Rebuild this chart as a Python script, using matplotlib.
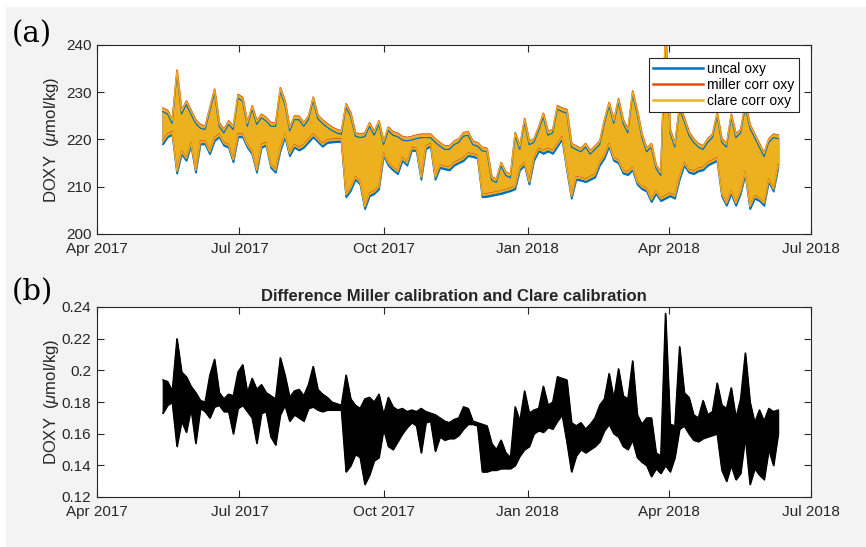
import matplotlib.dates as mdates
import matplotlib.pyplot as plt
import numpy as np
from matplotlib.patches import Rectangle

plt.rcParams["font.family"] = ["Liberation Sans", "DejaVu Sans"]
plt.rcParams["mathtext.fontset"] = "custom"
plt.rcParams["mathtext.rm"] = "Liberation Sans"
plt.rcParams["mathtext.it"] = "Liberation Sans:italic"

# one (low, high) pair every 3 days
start_day = "2017-05-13"
step_days = 3

clare_lo = [
    219.5, 221.0, 221.5, 213.3, 217.4, 216.0, 219.2, 213.5, 219.5, 219.5,
    217.4, 220.2, 221.0, 219.2, 218.8, 215.7, 221.0, 221.0, 218.8, 217.4,
    213.5, 218.8, 219.2, 214.5, 213.5, 218.0, 221.0, 217.0, 218.8, 218.2,
    218.8, 219.9, 221.0, 220.0, 219.0, 219.8, 219.9, 220.0, 220.0, 208.3,
    209.7, 212.0, 211.0, 205.8, 208.5, 209.0, 210.0, 217.0, 215.0, 214.0,
    213.2, 216.0, 215.0, 218.2, 218.0, 212.0, 218.5, 219.0, 212.0, 214.5,
    214.2, 214.0, 215.0, 215.5, 216.0, 217.0, 216.8, 216.5, 208.3, 208.4,
    208.6, 208.8, 209.0, 209.3, 209.6, 210.0, 214.0, 215.0, 211.0, 216.0,
    218.0, 217.5, 218.0, 217.5, 219.0, 220.5, 214.0, 208.0, 212.0, 211.8,
    211.5, 212.0, 212.5, 215.0, 216.5, 219.0, 216.0, 215.5, 213.3, 213.0,
    214.0, 211.0, 210.0, 209.5, 207.3, 209.0, 207.5, 208.0, 208.5, 208.0,
    212.0, 215.0, 213.5, 213.2, 213.8, 214.0, 215.0, 215.5, 216.0, 208.5,
    206.5, 209.0, 206.5, 209.0, 213.0, 205.8, 208.0, 207.5, 206.5, 211.5,
    209.5, 214.5,
]
clare_hi = [
    226.5, 226.0, 224.0, 234.5, 226.0, 228.0, 226.0, 224.0, 223.0, 222.7,
    226.6, 230.5, 223.4, 222.0, 223.8, 222.7, 229.4, 228.7, 223.4, 227.0,
    223.8, 225.2, 224.5, 223.4, 223.4, 230.8, 228.0, 222.4, 224.8, 224.8,
    223.4, 224.8, 228.8, 225.0, 224.0, 223.2, 222.5, 222.0, 221.7, 227.4,
    225.5, 221.3, 221.0, 221.2, 223.4, 221.5, 223.8, 219.5, 222.5, 221.5,
    221.2, 220.5, 220.3, 220.5, 220.8, 221.0, 221.0, 221.0, 220.0, 219.2,
    218.5, 218.5, 219.5, 220.0, 221.3, 221.5, 219.5, 219.2, 218.2, 218.0,
    212.0, 211.5, 215.0, 213.0, 212.5, 221.3, 218.5, 224.3, 219.5, 220.0,
    222.5, 225.4, 221.5, 222.0, 227.0, 226.5, 226.2, 219.0, 218.5, 218.0,
    219.0, 217.5, 218.5, 219.5, 224.0, 227.7, 224.0, 228.5, 224.0, 222.0,
    230.1, 226.0, 221.0, 218.0, 219.0, 214.5, 213.0, 243.0, 222.0, 219.0,
    227.0, 224.5, 221.5, 220.0, 219.0, 218.5, 220.0, 221.0, 225.5, 220.0,
    219.0, 225.2, 221.0, 222.0, 227.5, 223.0, 221.0, 219.0, 217.0, 220.0,
    221.0, 220.8,
]
uncal_lo = [
    219.0, 220.5, 221.0, 212.8, 216.9, 215.5, 218.7, 213.0, 219.0, 219.0,
    216.9, 219.7, 220.5, 218.7, 218.3, 215.2, 220.5, 220.5, 218.3, 216.9,
    213.0, 218.3, 218.7, 214.0, 213.0, 217.5, 220.5, 216.5, 218.3, 217.7,
    218.3, 219.4, 220.5, 219.5, 218.5, 219.3, 219.4, 219.5, 219.5, 207.8,
    209.2, 211.5, 210.5, 205.3, 208.0, 208.5, 209.5, 216.5, 214.5, 213.5,
    212.7, 215.5, 214.5, 217.7, 217.5, 211.5, 218.0, 218.5, 211.5, 214.0,
    213.7, 213.5, 214.5, 215.0, 215.5, 216.5, 216.3, 216.0, 207.8, 207.9,
    208.1, 208.3, 208.5, 208.8, 209.1, 209.5, 213.5, 214.5, 210.5, 215.5,
    217.5, 217.0, 217.5, 217.0, 218.5, 220.0, 213.5, 207.5, 211.5, 211.3,
    211.0, 211.5, 212.0, 214.5, 216.0, 218.5, 215.5, 215.0, 212.8, 212.5,
    213.5, 210.5, 209.5, 209.0, 206.8, 208.5, 207.0, 207.5, 208.0, 207.5,
    211.5, 214.5, 213.0, 212.7, 213.3, 213.5, 214.5, 215.0, 215.5, 208.0,
    206.0, 208.5, 206.0, 208.5, 212.5, 205.3, 207.5, 207.0, 206.0, 211.0,
    209.0, 214.0,
]
uncal_hi = [
    225.9, 225.4, 223.4, 233.9, 225.4, 227.4, 225.4, 223.4, 222.4, 222.1,
    226.0, 229.9, 222.8, 221.4, 223.2, 222.1, 228.8, 228.1, 222.8, 226.4,
    223.2, 224.6, 223.9, 222.8, 222.8, 230.2, 227.4, 221.8, 224.2, 224.2,
    222.8, 224.2, 228.2, 224.4, 223.4, 222.6, 221.9, 221.4, 221.1, 226.8,
    224.9, 220.7, 220.4, 220.6, 222.8, 220.9, 223.2, 218.9, 221.9, 220.9,
    220.6, 219.9, 219.7, 219.9, 220.2, 220.4, 220.4, 220.4, 219.4, 218.6,
    217.9, 217.9, 218.9, 219.4, 220.7, 220.9, 218.9, 218.6, 217.6, 217.4,
    211.4, 210.9, 214.4, 212.4, 211.9, 220.7, 217.9, 223.7, 218.9, 219.4,
    221.9, 224.8, 220.9, 221.4, 226.4, 225.9, 225.6, 218.4, 217.9, 217.4,
    218.4, 216.9, 217.9, 218.9, 223.4, 227.1, 223.4, 227.9, 223.4, 221.4,
    229.5, 225.4, 220.4, 217.4, 218.4, 213.9, 212.4, 242.4, 221.4, 218.4,
    226.4, 223.9, 220.9, 219.4, 218.4, 217.9, 219.4, 220.4, 224.9, 219.4,
    218.4, 224.6, 220.4, 221.4, 226.9, 222.4, 220.4, 218.4, 216.4, 219.4,
    220.4, 220.2,
]
# Miller minus Clare, panel (b)
diff_lo = [
    0.173, 0.178, 0.180, 0.152, 0.168, 0.161, 0.176, 0.154, 0.176, 0.174,
    0.170, 0.177, 0.178, 0.174, 0.174, 0.160, 0.176, 0.178, 0.174, 0.170,
    0.154, 0.173, 0.174, 0.158, 0.153, 0.172, 0.178, 0.168, 0.172, 0.170,
    0.168, 0.176, 0.177, 0.175, 0.174, 0.175, 0.175, 0.175, 0.175, 0.136,
    0.140, 0.147, 0.145, 0.128, 0.134, 0.143, 0.145, 0.163, 0.152, 0.150,
    0.155, 0.160, 0.164, 0.167, 0.165, 0.148, 0.167, 0.168, 0.149, 0.158,
    0.156, 0.157, 0.157, 0.159, 0.163, 0.166, 0.166, 0.165, 0.136, 0.136,
    0.137, 0.137, 0.138, 0.138, 0.138, 0.140, 0.146, 0.150, 0.152, 0.160,
    0.162, 0.161, 0.164, 0.163, 0.168, 0.172, 0.155, 0.136, 0.146, 0.150,
    0.148, 0.150, 0.152, 0.155, 0.162, 0.166, 0.160, 0.158, 0.152, 0.150,
    0.156, 0.145, 0.142, 0.140, 0.133, 0.138, 0.135, 0.140, 0.136, 0.145,
    0.163, 0.165, 0.160, 0.156, 0.155, 0.157, 0.158, 0.159, 0.160, 0.137,
    0.130, 0.140, 0.131, 0.135, 0.158, 0.128, 0.138, 0.134, 0.131, 0.150,
    0.140, 0.160,
]
diff_hi = [
    0.194, 0.193, 0.187, 0.220, 0.199, 0.196, 0.190, 0.186, 0.181, 0.180,
    0.197, 0.207, 0.186, 0.182, 0.185, 0.184, 0.199, 0.2035, 0.186, 0.195,
    0.188, 0.191, 0.186, 0.184, 0.182, 0.208, 0.197, 0.183, 0.187, 0.188,
    0.184, 0.191, 0.2025, 0.188, 0.185, 0.183, 0.180, 0.179, 0.178, 0.197,
    0.182, 0.178, 0.176, 0.182, 0.183, 0.180, 0.185, 0.172, 0.183, 0.177,
    0.175, 0.176, 0.174, 0.175, 0.174, 0.176, 0.174, 0.173, 0.172, 0.170,
    0.168, 0.167, 0.169, 0.170, 0.177, 0.176, 0.168, 0.167, 0.166, 0.165,
    0.154, 0.150, 0.156, 0.148, 0.145, 0.177, 0.168, 0.187, 0.173, 0.175,
    0.176, 0.190, 0.178, 0.180, 0.196, 0.195, 0.194, 0.167, 0.165, 0.167,
    0.163, 0.166, 0.170, 0.178, 0.182, 0.198, 0.182, 0.201, 0.184, 0.182,
    0.206, 0.172, 0.166, 0.170, 0.170, 0.148, 0.146, 0.236, 0.166, 0.165,
    0.215, 0.186, 0.183, 0.172, 0.170, 0.181, 0.172, 0.174, 0.192, 0.178,
    0.176, 0.189, 0.170, 0.182, 0.211, 0.180, 0.167, 0.175, 0.168, 0.176,
    0.174, 0.175,
]

x_ticks = ["2017-04-01", "2017-07-01", "2017-10-01",
           "2018-01-01", "2018-04-01", "2018-07-01"]
y_ticks_a = [200, 210, 220, 230, 240]
y_ticks_b = [0.12, 0.14, 0.16, 0.18, 0.2, 0.22, 0.24]
y_labels_b = ["0.12", "0.14", "0.16", "0.18", "0.2", "0.22", "0.24"]

TEXT = "#262626"
times = np.datetime64(start_day) + np.arange(len(clare_lo)) * np.timedelta64(step_days, "D")


def band(ax, lo, hi, color, label=None, lw=0.9):
    # dense profiles: the line sweeps between its low and high each sample
    ax.fill_between(times, lo, hi, facecolor=color, edgecolor=color, linewidth=lw)
    ax.plot(times, hi, color=color, lw=lw, label=label)
    ax.plot(times, lo, color=color, lw=lw)


def style_axes(ax):
    for s in ax.spines.values():
        s.set_color(TEXT)
        s.set_linewidth(0.8)
    ax.tick_params(direction="in", length=5, width=0.8, top=True, right=True,
                   labelsize=11, colors=TEXT)
    ax.tick_params(axis="x", pad=6)
    ax.tick_params(axis="y", pad=4)
    ax.set_xlim(np.datetime64(x_ticks[0]), np.datetime64(x_ticks[-1]))
    ax.set_xticks([np.datetime64(d) for d in x_ticks])
    ax.xaxis.set_major_formatter(mdates.DateFormatter("%b %Y"))
    ax.set_ylabel(r"DOXY  ($\mu$mol/kg)", fontsize=12, color=TEXT)
    ax.yaxis.set_label_coords(-0.05, 0.5)


fig = plt.figure(figsize=(8.66, 5.47), dpi=100, facecolor="white")
fig.patches.append(Rectangle((6 / 866, 0), 1, 540 / 547, transform=fig.transFigure,
                             facecolor="#f3f3f3", edgecolor="none", zorder=-10))

ax1 = fig.add_axes([97 / 866, 1 - 234 / 547, 714 / 866, 189 / 547])
miller_lo = np.array(clare_lo) + np.array(diff_lo)
miller_hi = np.array(clare_hi) + np.array(diff_hi)
band(ax1, uncal_lo, uncal_hi, "#0072BD", "uncal oxy")
band(ax1, miller_lo, miller_hi, "#D95319", "miller corr oxy")
band(ax1, clare_lo, clare_hi, "#EDB120", "clare corr oxy")
style_axes(ax1)
ax1.set_ylim(200, 240)
ax1.set_yticks(y_ticks_a)
leg = ax1.legend(loc="upper right", fontsize=10, fancybox=False, framealpha=1,
                 edgecolor=TEXT, borderaxespad=0.9, handlelength=3.6,
                 handletextpad=0.3, labelspacing=0.15, borderpad=0.3)
leg.get_frame().set_linewidth(0.8)
for line in leg.get_lines():
    line.set_linewidth(1.8)

ax2 = fig.add_axes([97 / 866, 1 - 497 / 547, 714 / 866, 190 / 547])
band(ax2, diff_lo, diff_hi, "black")
style_axes(ax2)
ax2.set_ylim(0.12, 0.24)
ax2.set_yticks(y_ticks_b)
ax2.set_yticklabels(y_labels_b)
ax2.set_title("Difference Miller calibration and Clare calibration",
              fontsize=12, fontweight="bold", color=TEXT, pad=4)

fig.text(12 / 866, 1 - 34 / 547, "(a)", fontsize=21, family="DejaVu Serif", va="center")
fig.text(12 / 866, 1 - 292 / 547, "(b)", fontsize=21, family="DejaVu Serif", va="center")

fig.savefig("out.png", dpi=100, facecolor=fig.get_facecolor())
